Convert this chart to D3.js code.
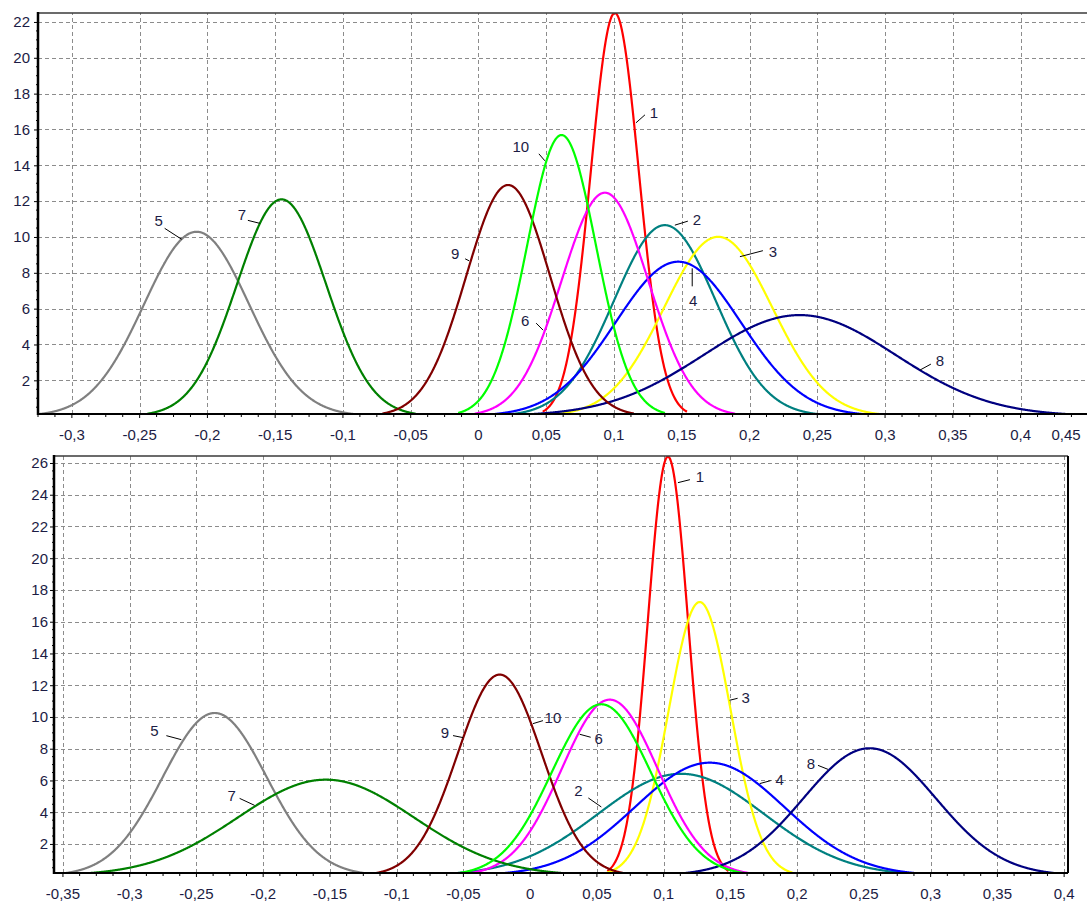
<!DOCTYPE html>
<html><head><meta charset="utf-8">
<script src="https://cdn.jsdelivr.net/npm/d3@7"></script>
<style>
body{margin:0;background:#fff}
svg{display:block}
text{font-family:"Liberation Sans",Arial,sans-serif}
</style>
</head><body>
<svg id="chart" width="1087" height="902"></svg>
<script>
// ---------- DATA ----------
const seriesNames = ["1","2","3","4","5","6","7","8","9","10"];

// Top panel: mean (x of peak) and peak height of each density curve
const topMeans = [0.1006, 0.1375, 0.1769, 0.1474, -0.2080, 0.0933, -0.1453, 0.2370, 0.0219, 0.0613];
const topPeaks = [22.5, 10.66, 10.01, 8.62, 10.29, 12.47, 12.10, 5.64, 12.90, 15.69];
const topXTicks = [-0.3,-0.25,-0.2,-0.15,-0.1,-0.05,0,0.05,0.1,0.15,0.2,0.25,0.3,0.35,0.4,0.45];
const topXTickLabels = ["-0,3","-0,25","-0,2","-0,15","-0,1","-0,05","0","0,05","0,1","0,15","0,2","0,25","0,3","0,35","0,4","0,45"];
const topYTicks = [2,4,6,8,10,12,14,16,18,20,22];
const topLabelNames = ["1","10","2","3","4","9","6","5","7","8"];
const topLabelX = [0.1162, 0.0490, 0.1449, 0.1929, 0.1577, -0.0069, 0.0477, -0.2190, -0.1613, 0.3257];
const topLabelY = [16.37, 14.25, 10.66, 8.90, 8.25, 8.67, 4.80, 9.87, 10.76, 2.57];

// Bottom panel
const bottomMeans = [0.1032, 0.1130, 0.1270, 0.1345, -0.2363, 0.0596, -0.1530, 0.2543, -0.0228, 0.0533];
const bottomPeaks = [26.4, 6.42, 17.24, 7.12, 10.25, 11.09, 6.05, 8.03, 12.67, 10.80];
const bottomXTicks = [-0.35,-0.3,-0.25,-0.2,-0.15,-0.1,-0.05,0,0.05,0.1,0.15,0.2,0.25,0.3,0.35,0.4];
const bottomXTickLabels = ["-0,35","-0,3","-0,25","-0,2","-0,15","-0,1","-0,05","0","0,05","0,1","0,15","0,2","0,25","0,3","0,35","0,4"];
const bottomYTicks = [2,4,6,8,10,12,14,16,18,20,22,24,26];
const bottomLabelNames = ["1","3","10","9","6","2","4","8","5","7"];
const bottomLabelX = [0.1107, 0.1494, 0.0021, -0.0503, 0.0371, 0.0533, 0.1719, 0.2231, -0.2613, -0.2064];
const bottomLabelY = [24.76, 11.05, 9.58, 8.70, 8.91, 4.33, 5.80, 6.70, 8.57, 4.43];

// ---------- STYLE / LAYOUT ----------
const seriesColors = ["#ff0000","#008080","#ffff00","#0000ff","#808080","#ff00ff","#008000","#000080","#800000","#00ff00"];
const textColor = "#1c1c44";
const fontSize = 15;

const topLayout = {
  xDomain: [-0.325, 0.4512], xRange: [38, 1090],
  yDomain: [0.12, 22.5], yRange: [414, 13],
  yPad: 4, rightBorder: false, clipId: "clipTop",
  leader: [[9,-8],[-6,-7],[13,-4],[23,-6],[0,18],[-4,-2],[-7,-7],[-17,-11],[-12,-3],[11,-6]],
  text:   [[18,-10],[-24,-14],[22,-6],[33,-5],[1,32],[-14,-7],[-18,-10],[-23,-19],[-18,-9],[20,-10]]
};
const bottomLayout = {
  xDomain: [-0.3567, 0.4029], xRange: [54, 1068],
  yDomain: [0.17, 26.44], yRange: [873, 456],
  yPad: 2, rightBorder: true, clipId: "clipBottom",
  leader: [[12,-3],[8,-2],[10,-3],[-10,-2],[11,3],[-13,-9],[11,-3],[-10,-4],[-15,-4],[-15,-7]],
  text:   [[22,-6],[16,-3],[20,-6],[-18,-5],[19,4],[-23,-16],[20,-4],[-17,-6],[-27,-9],[-23,-10]]
};

const svg = d3.select("#chart");
const W = 1087;

function drawPanel(means, peaks, xTicks, xTickLabels, yTicks, labelNames, labelX, labelY, L) {
  const x = d3.scaleLinear().domain(L.xDomain).range(L.xRange);
  const y = d3.scaleLinear().domain(L.yDomain).range(L.yRange);
  const [x0, x1] = L.xRange, [yb, yt] = L.yRange;
  const g = svg.append("g");

  g.append("clipPath").attr("id", L.clipId).append("rect")
    .attr("x", x0).attr("y", yt).attr("width", x1 - x0).attr("height", yb - yt);

  // grid
  const grid = g.append("g").attr("stroke", "#8c8c8c").attr("stroke-width", 1)
    .attr("stroke-dasharray", "4,3").attr("shape-rendering", "crispEdges");
  xTicks.forEach(t => {
    const px = Math.round(x(t)) + 0.5;
    if (px > x0 + 1 && px < Math.min(x1, W)) grid.append("line").attr("x1", px).attr("x2", px).attr("y1", yb).attr("y2", yt);
  });
  yTicks.forEach(t => {
    const py = Math.round(y(t)) + 0.5;
    grid.append("line").attr("x1", x0).attr("x2", Math.min(x1, W)).attr("y1", py).attr("y2", py);
  });

  // curves
  const line = d3.line().x(d => x(d[0])).y(d => y(d[1]));
  const span = L.xDomain[1] - L.xDomain[0];
  const curves = g.append("g").attr("clip-path", `url(#${L.clipId})`);
  means.forEach((mu, i) => {
    const pk = peaks[i];
    const sd = 1 / (pk * Math.sqrt(2 * Math.PI));
    const xs = d3.range(mu - 3 * sd, mu + 3 * sd, span / 2500).concat([mu + 3 * sd]);
    const pts = xs.map(v => [v, pk * Math.exp(-0.5 * ((v - mu) / sd) ** 2)]);
    curves.append("path").datum(pts).attr("d", line)
      .attr("fill", "none").attr("stroke", seriesColors[i]).attr("stroke-width", 2.2)
      .attr("stroke-linejoin", "round");
  });

  // x axis ticks & labels
  const xa = d3.axisBottom(x).tickValues(xTicks)
    .tickFormat((d, i) => xTickLabels[i]).tickSize(4).tickPadding(11);
  const xg = g.append("g").attr("transform", `translate(0,${yb})`).call(xa);
  xg.select(".domain").remove();
  xg.selectAll(".tick line").attr("stroke", "#000");
  xg.selectAll(".tick").attr("transform", d => {
    let px = x(d);
    return `translate(${px},0)`;
  });
  xg.selectAll(".tick text").attr("fill", textColor).attr("font-size", fontSize)
    .attr("font-family", '"Liberation Sans",Arial,sans-serif')
    .attr("dx", d => { const px = x(d); return px > W - 21 ? (W - 21 - px) : 0; });
  // minor x ticks
  const minorX = [];
  for (let k = 0; k < xTicks.length - 1; k++) {
    const step = (xTicks[k + 1] - xTicks[k]) / 4;
    for (let m = 1; m < 4; m++) minorX.push(xTicks[k] + m * step);
  }
  const stepX = (xTicks[1] - xTicks[0]) / 4;
  for (let m = 1; m < 4; m++) minorX.push(xTicks[0] - m * stepX);
  minorX.forEach(v => {
    const px = x(v);
    if (px > x0 && px < Math.min(x1, W)) g.append("line").attr("x1", px).attr("x2", px)
      .attr("y1", yb).attr("y2", yb + 3).attr("stroke", "#000").attr("stroke-width", 1);
  });

  // y axis ticks & labels
  const ya = d3.axisLeft(y).tickValues(yTicks).tickSize(4).tickPadding(L.yPad).tickFormat(d3.format("d"));
  const yg = g.append("g").attr("transform", `translate(${x0},0)`).call(ya);
  yg.select(".domain").remove();
  yg.selectAll(".tick line").attr("stroke", "#000");
  yg.selectAll(".tick text").attr("fill", textColor).attr("font-size", fontSize)
    .attr("font-family", '"Liberation Sans",Arial,sans-serif');
  const minorY = [];
  for (let k = 0; k < yTicks.length - 1; k++) {
    const step = (yTicks[k + 1] - yTicks[k]) / 4;
    for (let m = 1; m < 4; m++) minorY.push(yTicks[k] + m * step);
  }
  for (let m = 1; m < 4; m++) minorY.push(yTicks[0] - m * 0.5);
  for (let m = 1; m < 4; m++) minorY.push(yTicks[yTicks.length - 1] + m * 0.5);
  minorY.forEach(v => {
    const py = y(v);
    if (py < yb - 1 && py > yt) g.append("line").attr("x1", x0 - 2).attr("x2", x0)
      .attr("y1", py).attr("y2", py).attr("stroke", "#000").attr("stroke-width", 1);
  });

  // frame
  g.append("line").attr("x1", x0).attr("x2", Math.min(x1, W)).attr("y1", yt).attr("y2", yt)
    .attr("stroke", "#3a3a3a").attr("stroke-width", 1.5);
  if (L.rightBorder) g.append("line").attr("x1", x1).attr("x2", x1).attr("y1", yt).attr("y2", yb)
    .attr("stroke", "#000").attr("stroke-width", 2);
  g.append("line").attr("x1", x0).attr("x2", Math.min(x1, W)).attr("y1", yb).attr("y2", yb)
    .attr("stroke", "#000").attr("stroke-width", 2);
  g.append("line").attr("x1", x0).attr("x2", x0).attr("y1", yt - 1).attr("y2", yb + 1)
    .attr("stroke", "#000").attr("stroke-width", 2.5);

  // curve labels with leader lines
  labelNames.forEach((name, i) => {
    const px = x(labelX[i]), py = y(labelY[i]);
    const lo = L.leader[i], to = L.text[i];
    g.append("line").attr("x1", px).attr("y1", py).attr("x2", px + lo[0]).attr("y2", py + lo[1])
      .attr("stroke", "#000").attr("stroke-width", 1);
    g.append("text").attr("x", px + to[0]).attr("y", py + to[1])
      .attr("text-anchor", "middle").attr("dominant-baseline", "central")
      .attr("fill", textColor).attr("font-size", fontSize).text(name);
  });
}

drawPanel(topMeans, topPeaks, topXTicks, topXTickLabels, topYTicks, topLabelNames, topLabelX, topLabelY, topLayout);
drawPanel(bottomMeans, bottomPeaks, bottomXTicks, bottomXTickLabels, bottomYTicks, bottomLabelNames, bottomLabelX, bottomLabelY, bottomLayout);
</script>
</body></html>
